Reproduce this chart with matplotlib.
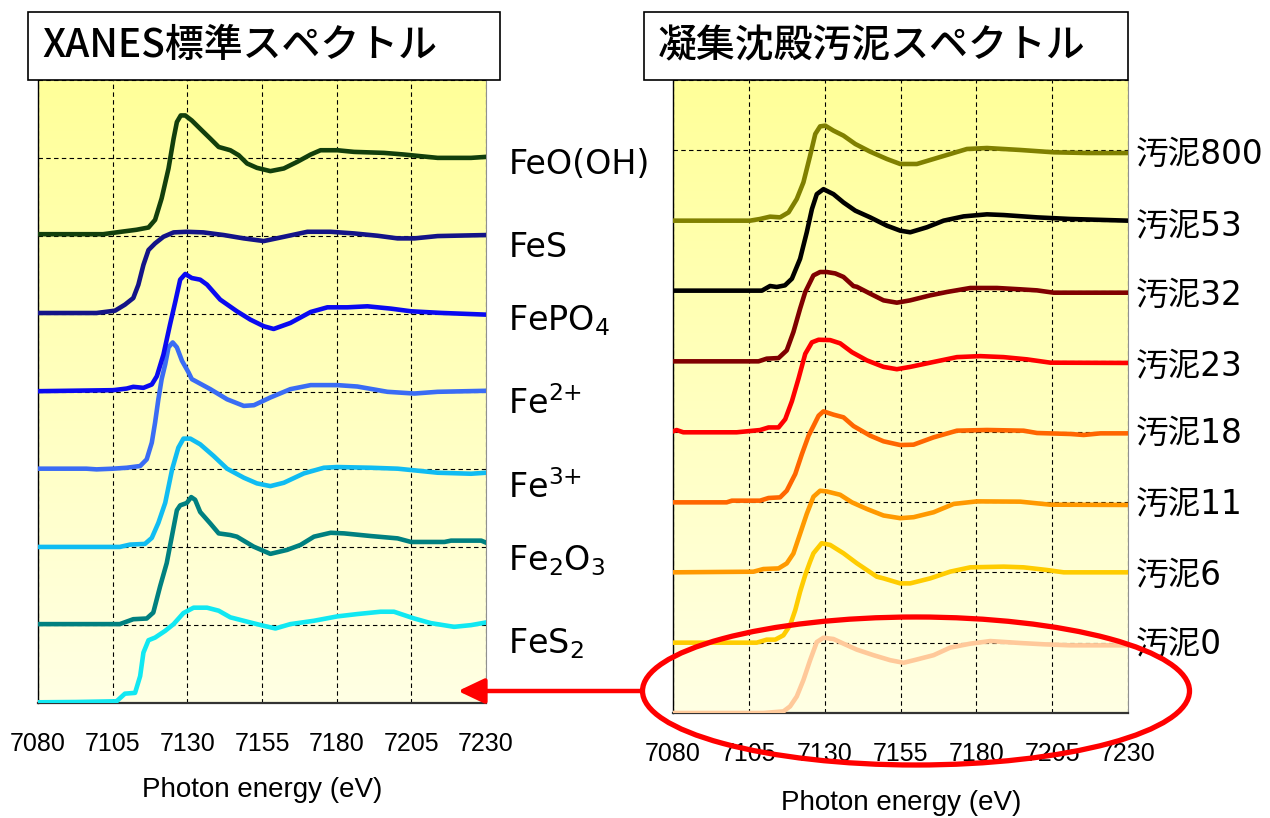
import matplotlib
matplotlib.use("Agg")
import matplotlib.pyplot as plt
import numpy as np
from matplotlib.colors import LinearSegmentedColormap
from matplotlib.patches import Rectangle, Ellipse, FancyArrowPatch

plt.rcParams['font.family'] = ['DejaVu Sans', 'Noto Sans CJK JP']
plt.rcParams['mathtext.default'] = 'regular'

# ---- XANES reference spectra (energy in eV, normalised absorption) ----
feooh_e = [7080, 7101.8, 7108.6, 7113, 7117, 7119.2, 7121.4, 7123.7, 7125.4, 7126.5, 7127.8, 7129.3,
           7131.5, 7134.3, 7137.7, 7140.5, 7144.4, 7147.2, 7150, 7153.3, 7157.8, 7162.3, 7166.8,
           7171.3, 7174.6, 7180.2, 7185.8, 7195.9, 7202.6, 7207, 7213.8, 7225, 7230]
feooh_mu = [0.02, 0.02, 0.055, 0.077, 0.106, 0.204, 0.48, 0.864, 1.247, 1.46, 1.545, 1.545,
            1.48, 1.374, 1.247, 1.14, 1.098, 1.034, 0.928, 0.872, 0.83, 0.864, 0.949,
            1.043, 1.098, 1.098, 1.077, 1.064, 1.043, 1.026, 1.0, 1.0, 1.013]

fes_e = [7080, 7099.6, 7105.8, 7109.1, 7111.9, 7113.6, 7115.3, 7117, 7119.2, 7122, 7125.4, 7129.8,
         7135.4, 7142.2, 7148.9, 7155.6, 7162.4, 7170.2, 7178, 7185.8, 7193.7, 7200.4, 7206,
         7213.8, 7230]
fes_mu = [0.008, 0.008, 0.038, 0.115, 0.2, 0.37, 0.626, 0.817, 0.902, 0.987, 1.043, 1.051,
          1.043, 1.009, 0.966, 0.932, 0.987, 1.051, 1.051, 1.03, 1.0, 0.966, 0.966,
          0.996, 1.009]

fepo4_e = [7080, 7105.2, 7109.7, 7111.9, 7115.3, 7118.1, 7119.8, 7122, 7124.2, 7126, 7127.6, 7129.3,
           7131.5, 7134.3, 7136.6, 7141, 7146.6, 7151.1, 7155.6, 7158.9, 7164.5, 7171.3, 7176.9,
           7183.6, 7190.3, 7198.2, 7204.9, 7215, 7230]
fepo4_mu = [0.004, 0.017, 0.038, 0.06, 0.047, 0.09, 0.197, 0.474, 0.859, 1.158, 1.436, 1.509,
            1.457, 1.436, 1.372, 1.18, 1.03, 0.923, 0.838, 0.803, 0.88, 1.021, 1.081,
            1.081, 1.094, 1.064, 1.03, 1.009, 0.987]

fe2_e = [7080, 7096.2, 7099.6, 7105.2, 7109.7, 7114.2, 7116.4, 7118.1, 7119.2, 7120.3, 7121.4,
         7122.6, 7123.7, 7125.1, 7126.5, 7128.2, 7130.4, 7131.5, 7137.7, 7143.3, 7148.9, 7152.3,
         7157.8, 7164.5, 7171.3, 7180.2, 7186.9, 7197, 7206, 7213.8, 7230]
fe2_mu = [0.009, 0.009, 0.0, 0.009, 0.021, 0.043, 0.129, 0.343, 0.6, 0.9, 1.159,
          1.35, 1.567, 1.63, 1.567, 1.395, 1.245, 1.159, 1.03, 0.9, 0.815, 0.824,
          0.923, 1.03, 1.082, 1.082, 1.064, 0.996, 0.974, 0.996, 1.009]

fe3_e = [7080, 7107.4, 7110.8, 7115.8, 7118.1, 7120.3, 7122.6, 7124.9, 7127, 7128.7, 7131,
         7134.3, 7138.8, 7143.3, 7148.9, 7153.3, 7157.8, 7162.3, 7169, 7175.7, 7180.2, 7191.4,
         7200.4, 7208.2, 7213.8, 7225, 7230]
fe3_mu = [0.004, 0.004, 0.034, 0.043, 0.12, 0.313, 0.571, 1.0, 1.279, 1.395, 1.395,
          1.322, 1.172, 1.009, 0.893, 0.82, 0.785, 0.828, 0.948, 1.021, 1.03, 1.021,
          1.009, 0.979, 0.957, 0.944, 0.957]

fe2o3_e = [7080, 7107.4, 7111.9, 7116.4, 7118.6, 7120.9, 7123.1, 7124.8, 7126.5, 7127.6, 7129.8,
           7131.3, 7132.6, 7134.3, 7137.7, 7140.5, 7144.4, 7146.6, 7152.2, 7157.8, 7163.4, 7167.9,
           7172.4, 7178, 7182.5, 7191.4, 7200.4, 7204.9, 7216.1, 7218.3, 7228.4, 7230]
fe2o3_mu = [0.013, 0.013, 0.076, 0.085, 0.161, 0.5, 0.797, 1.136, 1.475, 1.538, 1.568,
            1.644, 1.61, 1.453, 1.305, 1.178, 1.157, 1.136, 1.008, 0.915, 0.966, 1.03,
            1.136, 1.186, 1.178, 1.144, 1.114, 1.068, 1.068, 1.085, 1.085, 1.059]

fes2_e = [7080, 7092.9, 7106.3, 7109.1, 7112.5, 7114.2, 7115.3, 7117, 7119.2, 7122.6, 7125.4,
          7128.7, 7132.1, 7136.6, 7140.5, 7144.4, 7151.1, 7155.6, 7159.5, 7164.5, 7172.4, 7180.2,
          7186.9, 7194.7, 7199.2, 7205.9, 7211.5, 7219.3, 7225, 7230]
fes2_mu = [0.009, 0.013, 0.022, 0.12, 0.13, 0.345, 0.647, 0.806, 0.84, 0.927, 1.013,
           1.155, 1.224, 1.224, 1.185, 1.1, 1.034, 0.991, 0.957, 1.013, 1.056, 1.112,
           1.142, 1.172, 1.172, 1.086, 1.026, 0.978, 1.0, 1.034]

# ---- sludge spectra ----
s800_e = [7080, 7105.4, 7108.7, 7112, 7115.3, 7118.1, 7120.8, 7123, 7125.2, 7126.9, 7128.5, 7130.2,
          7132.9, 7136.2, 7140.1, 7145, 7150.5, 7154.9, 7160.4, 7165.9, 7171.4, 7176.9, 7183.5,
          7194.5, 7205.5, 7216.5, 7230]
s800_mu = [0.0, 0.0, 0.024, 0.057, 0.047, 0.118, 0.308, 0.545, 0.924, 1.232, 1.341, 1.351,
           1.28, 1.209, 1.09, 0.981, 0.877, 0.806, 0.806, 0.877, 0.948, 1.019, 1.033,
           1.005, 0.972, 0.962, 0.962]

s53_e = [7080, 7109.3, 7112, 7114.2, 7116.9, 7119.2, 7121.9, 7124.1, 7125.8, 7127.4, 7129.6,
         7132.9, 7136.2, 7140.1, 7145, 7150.5, 7154.9, 7158.2, 7163.7, 7169.2, 7175.8, 7183.5,
         7189, 7200, 7211, 7230]
s53_mu = [0.005, 0.005, 0.071, 0.057, 0.08, 0.175, 0.458, 0.835, 1.165, 1.377, 1.448,
          1.377, 1.259, 1.142, 1.047, 0.929, 0.858, 0.835, 0.906, 1.0, 1.061, 1.09,
          1.08, 1.047, 1.024, 1.0]

s32_e = [7080, 7108.2, 7110.9, 7114.8, 7117.5, 7119.7, 7121.9, 7123.6, 7126.3, 7128.5, 7130.7,
         7133.5, 7136.2, 7139.5, 7140.6, 7145, 7149.4, 7153.8, 7158.2, 7164.8, 7170.3, 7178,
         7186.8, 7194.5, 7200, 7205.5, 7230]
s32_mu = [0.0, 0.0, 0.038, 0.047, 0.156, 0.417, 0.749, 0.986, 1.222, 1.27, 1.27,
          1.25, 1.2, 1.07, 1.06, 0.962, 0.867, 0.834, 0.867, 0.938, 0.986, 1.043,
          1.043, 1.024, 1.009, 0.976, 0.976]

s23_e = [7080, 7081.2, 7083.4, 7101, 7108.7, 7111.5, 7114.8, 7117, 7119.2, 7121.4, 7123.6,
         7125.8, 7128, 7131.8, 7135.1, 7139, 7143.9, 7149.4, 7153.8, 7158.2, 7165.9, 7173.6,
         7181.3, 7189, 7196.7, 7204.4, 7230]
s23_mu = [0.005, 0.023, -0.009, -0.009, 0.023, 0.06, 0.06, 0.177, 0.433, 0.758, 1.107,
          1.27, 1.307, 1.302, 1.256, 1.13, 1.014, 0.921, 0.888, 0.921, 0.991, 1.06,
          1.074, 1.06, 1.028, 0.981, 0.977]

s18_e = [7080, 7097.7, 7099.4, 7108.7, 7111.5, 7115.3, 7117.5, 7120.3, 7122.5, 7124.7, 7126.3,
         7128, 7129.6, 7132.9, 7136.2, 7139.5, 7145, 7149.4, 7154.9, 7159.3, 7165.9, 7173.6,
         7183.5, 7195.6, 7200, 7211, 7215.4, 7220.9, 7230]
s18_mu = [-0.005, -0.005, 0.019, 0.019, 0.057, 0.066, 0.161, 0.398, 0.682, 0.943, 1.08,
          1.227, 1.289, 1.242, 1.204, 1.08, 0.943, 0.863, 0.81, 0.815, 0.919, 1.014,
          1.024, 1.014, 0.981, 0.967, 0.953, 0.976, 0.976]

s11_e = [7080, 7106.5, 7109.8, 7114.8, 7117.5, 7119.7, 7121.9, 7124.1, 7126.3, 7128.5, 7130.7,
         7135.1, 7139, 7143.9, 7149.4, 7154.9, 7159.3, 7165.9, 7172.5, 7180.2, 7194.5, 7204.4, 7230]
s11_mu = [0.0, 0.009, 0.047, 0.056, 0.127, 0.268, 0.549, 0.831, 1.075, 1.16, 1.15,
          1.103, 0.995, 0.901, 0.808, 0.77, 0.784, 0.854, 0.972, 1.009, 1.005, 0.962, 0.958]

s6_e = [7080, 7107.6, 7110.9, 7113.7, 7116.4, 7118.6, 7120.3, 7121.9, 7123.6, 7125.2, 7126.3,
        7129, 7131.8, 7136.2, 7140.6, 7147.2, 7149.4, 7154.9, 7158.2, 7164.8, 7171.4, 7178,
        7189, 7195.6, 7203.3, 7208.8, 7230]
s6_mu = [0.0, 0.0, 0.043, 0.043, 0.105, 0.248, 0.462, 0.724, 0.962, 1.152, 1.271,
         1.414, 1.39, 1.271, 1.129, 0.938, 0.914, 0.843, 0.843, 0.914, 1.01, 1.071,
         1.081, 1.071, 1.033, 1.0, 1.0]

s0_e = [7080, 7109.8, 7116.4, 7118.6, 7120.8, 7123, 7125.2, 7127.4, 7129.6, 7132.9, 7136.2,
        7140.6, 7146.1, 7151.6, 7156, 7160.4, 7165.9, 7171.4, 7178, 7184.6, 7194.5, 7202.2,
        7211, 7230]
s0_mu = [0.0, 0.0, 0.023, 0.094, 0.235, 0.469, 0.751, 1.009, 1.07, 1.052, 0.986,
         0.901, 0.822, 0.751, 0.714, 0.761, 0.822, 0.93, 0.986, 1.023, 0.995, 0.977,
         0.962, 0.962]

std_names = ['FeS$_2$', 'Fe$_2$O$_3$', 'Fe$^{3{+}}$', 'Fe$^{2{+}}$', 'FePO$_4$', 'FeS', 'FeO(OH)']
std_spectra = [(fes2_e, fes2_mu), (fe2o3_e, fe2o3_mu), (fe3_e, fe3_mu), (fe2_e, fe2_mu),
               (fepo4_e, fepo4_mu), (fes_e, fes_mu), (feooh_e, feooh_mu)]
std_colors = ['#11e8f2', '#008080', '#10bcf2', '#3a6cf4', '#0a0af0', '#141488', '#123f0c']
std_label_y = [0.76, 1.83, 2.77, 3.84, 4.91, 5.85, 6.915]

sludge_names = ['汚泥0', '汚泥6', '汚泥11', '汚泥18', '汚泥23', '汚泥32', '汚泥53', '汚泥800']
sludge_spectra = [(s0_e, s0_mu), (s6_e, s6_mu), (s11_e, s11_mu), (s18_e, s18_mu),
                  (s23_e, s23_mu), (s32_e, s32_mu), (s53_e, s53_mu), (s800_e, s800_mu)]
sludge_colors = ['#ffc99a', '#ffcc00', '#ff9900', '#ff6600', '#ff0000', '#800000', '#000000', '#808000']
sludge_label_y = [0.97, 1.96, 2.97, 3.97, 4.93, 5.93, 6.92, 7.94]

xticks = [7080, 7105, 7130, 7155, 7180, 7205, 7230]

W, H = 1270, 818
fig = plt.figure(figsize=(W / 100, H / 100), dpi=100)

bg = LinearSegmentedColormap.from_list('bg', ['#ffffe4', '#ffff99'])


def setup(ax, ymax):
    ax.set_xlim(7080, 7230)
    ax.set_ylim(0, ymax)
    grad = np.linspace(0, 1, 256).reshape(-1, 1)
    ax.imshow(grad, extent=(7080, 7230, 0, ymax), origin='lower', aspect='auto',
              cmap=bg, zorder=0)
    ax.set_xticks(xticks)
    ax.set_yticks(range(ymax + 1))
    ax.set_yticklabels([])
    ax.grid(True, color='black', linestyle=(0, (4, 3)), linewidth=0.8, zorder=1)
    ax.tick_params(length=0, pad=21)
    for lab in ax.get_xticklabels():
        lab.set_fontfamily('Liberation Sans')
        lab.set_fontsize(18)
    ax.spines['top'].set_visible(False)
    ax.spines['right'].set_color('#909090')
    ax.spines['left'].set_linewidth(1.0)
    ax.spines['bottom'].set_linewidth(1.6)
    ax.spines['bottom'].set_color('#333333')


# left panel: reference compounds
ax1 = fig.add_axes([38 / W, 1 - 703 / H, 448 / W, 623 / H])
setup(ax1, 8)
for i, (e, mu) in enumerate(std_spectra):
    ax1.plot(e, np.array(mu) + i, color=std_colors[i], lw=3.3, zorder=3,
             solid_joinstyle='round')
    ax1.text(1.05, std_label_y[i], std_names[i], transform=ax1.get_yaxis_transform(),
             fontsize=24, va='center', ha='left')

# right panel: sludge samples
ax2 = fig.add_axes([673 / W, 1 - 713 / H, 455 / W, 633 / H])
setup(ax2, 9)
for i, (e, mu) in enumerate(sludge_spectra):
    ax2.plot(e, np.array(mu) + i, color=sludge_colors[i], lw=3.3, zorder=3,
             solid_joinstyle='round')
    ax2.text(1.018, sludge_label_y[i], sludge_names[i], transform=ax2.get_yaxis_transform(),
             fontsize=23.5, va='center', ha='left')

# axis titles
fig.text(262 / W, 1 - 790 / H, 'Photon energy (eV)', fontsize=20,
         family='Liberation Sans', ha='center', va='center')
fig.text(901 / W, 1 - 803 / H, 'Photon energy (eV)', fontsize=20,
         family='Liberation Sans', ha='center', va='center')

# boxed panel titles
for x0, x1, title in [(28, 500, 'XANES標準スペクトル'), (644, 1128, '凝集沈殿汚泥スペクトル')]:
    fig.add_artist(Rectangle((x0 / W, 1 - 80 / H), (x1 - x0) / W, 68 / H,
                             transform=fig.transFigure, facecolor='white',
                             edgecolor='black', lw=1.2))
    fig.text((x0 + 14) / W, 1 - 46 / H, title, fontsize=28, ha='left', va='center',
             family=['Noto Sans CJK JP', 'DejaVu Sans'], fontweight='medium')

# highlight the 汚泥0 spectrum and point it to the reference panel
fig.add_artist(Ellipse((916 / W, 1 - 691 / H), 547 / W, 148 / H, transform=fig.transFigure,
                       fill=False, edgecolor='#ff0000', lw=3.8, zorder=10))
fig.add_artist(FancyArrowPatch((642 / W, 1 - 691 / H), (458 / W, 1 - 691 / H),
                               transform=fig.transFigure, color='#ff0000', lw=3.2,
                               arrowstyle='-|>,head_length=0.8,head_width=0.38',
                               mutation_scale=20, shrinkA=0, shrinkB=0, zorder=10))

fig.savefig('out.png', dpi=100)
